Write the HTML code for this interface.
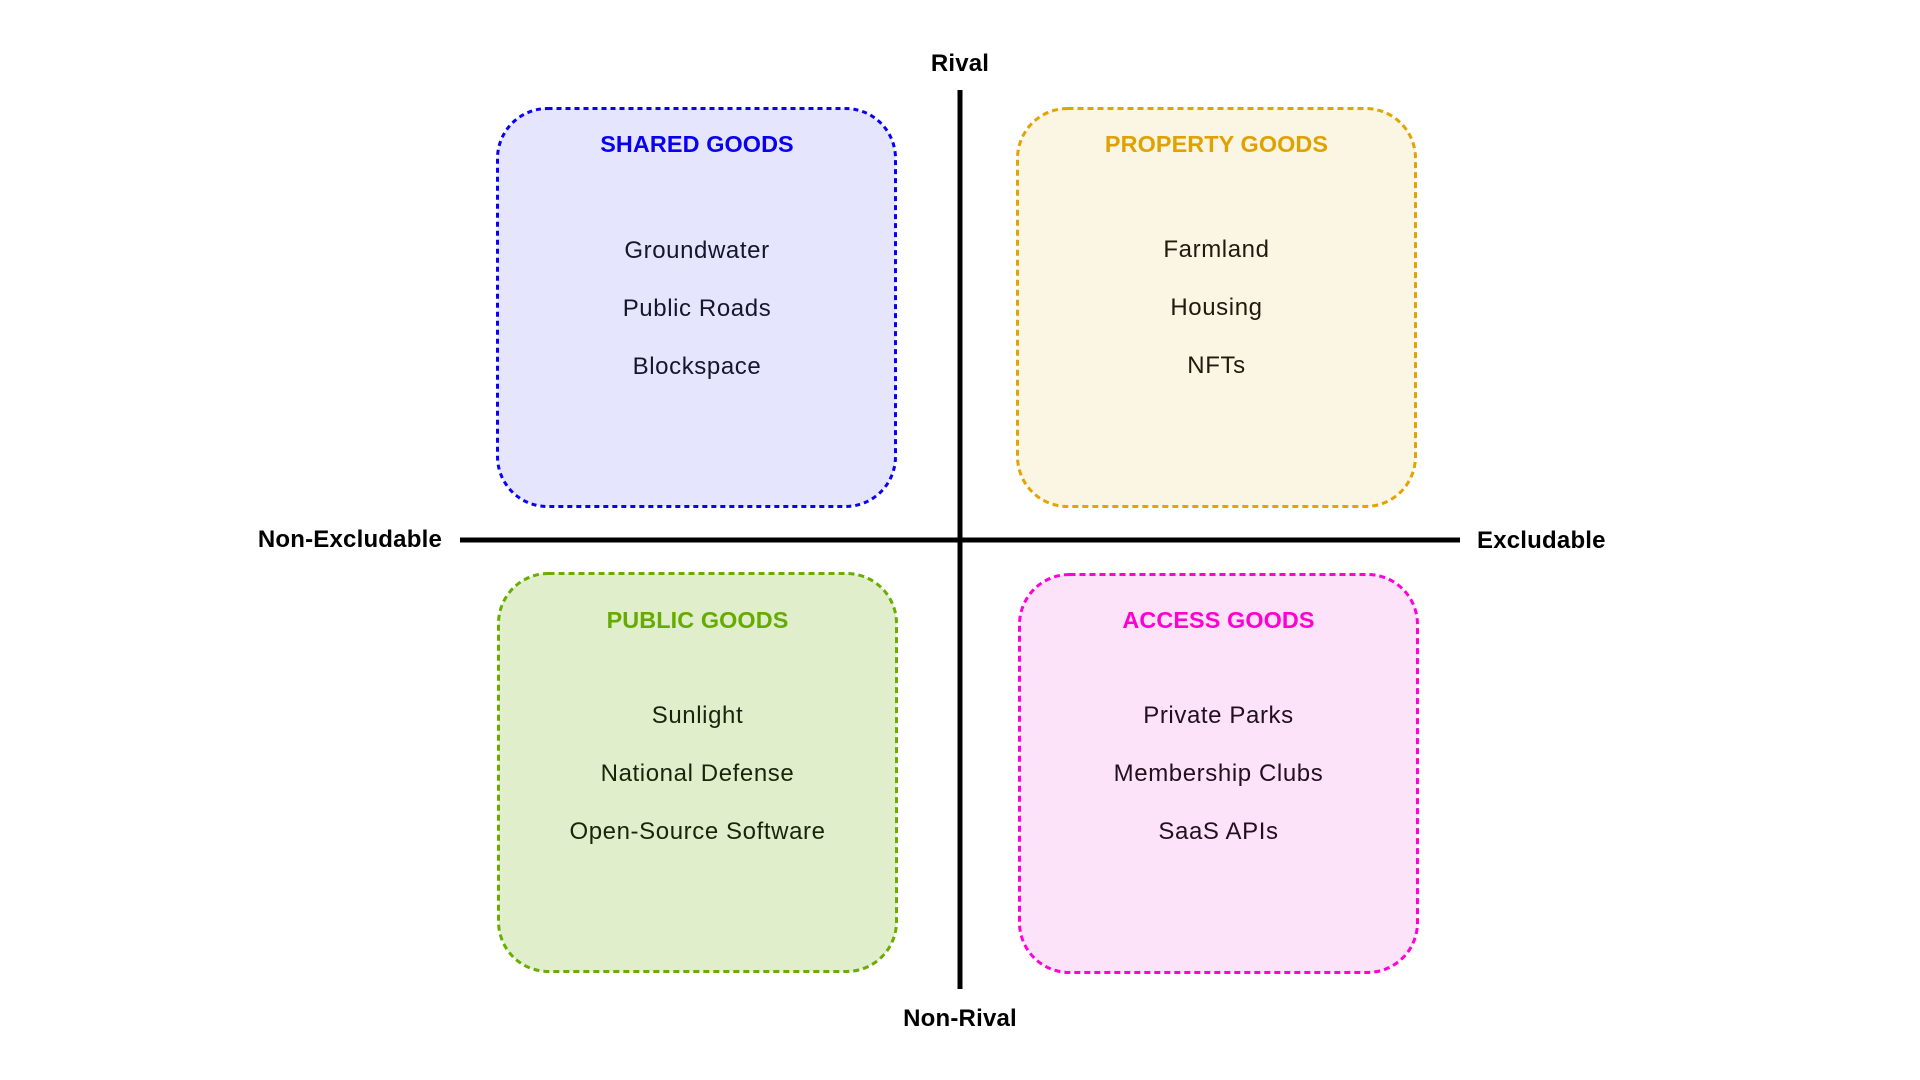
<!DOCTYPE html>
<html>
<head>
<meta charset="utf-8">
<style>
  html, body { margin: 0; padding: 0; background: #ffffff; }
  body { width: 1920px; height: 1080px; overflow: hidden; }
  svg { display: block; }
  .ax { font-family: "Liberation Sans", Arial, sans-serif; font-weight: bold; font-size: 24px; fill: #000; letter-spacing: 0.2px; }
  .ttl { font-family: "Liberation Sans", Arial, sans-serif; font-weight: bold; font-size: 23.4px; letter-spacing: 0.1px; }
  .it { font-family: "Liberation Sans", Arial, sans-serif; font-size: 24px; letter-spacing: 0.6px; }
</style>
</head>
<body>
<svg width="1920" height="1080" viewBox="0 0 1920 1080" xmlns="http://www.w3.org/2000/svg">
  <rect x="0" y="0" width="1920" height="1080" fill="#ffffff"/>

  <!-- Quadrant boxes -->
  <rect x="497.5" y="108.5" width="398" height="398" rx="50" ry="50" fill="#e5e5fd" stroke="#0a00f5" stroke-width="3" stroke-dasharray="5 4"/>
  <rect x="1017.5" y="108.5" width="398" height="398" rx="50" ry="50" fill="#fbf5e3" stroke="#e3a300" stroke-width="3" stroke-dasharray="6 4"/>
  <rect x="498.5" y="573.5" width="398" height="398" rx="50" ry="50" fill="#e1eecc" stroke="#6aad00" stroke-width="3" stroke-dasharray="6 4"/>
  <rect x="1019.5" y="574.5" width="398" height="398" rx="50" ry="50" fill="#fde3f9" stroke="#ff00d8" stroke-width="3" stroke-dasharray="6 4"/>

  <!-- Axes -->
  <line x1="960" y1="90" x2="960" y2="989" stroke="#000" stroke-width="5"/>
  <line x1="460" y1="540" x2="1460" y2="540" stroke="#000" stroke-width="5"/>

  <!-- Axis labels -->
  <text class="ax" x="960" y="71" text-anchor="middle">Rival</text>
  <text class="ax" x="960" y="1026" text-anchor="middle">Non-Rival</text>
  <text class="ax" x="442" y="547" text-anchor="end">Non-Excludable</text>
  <text class="ax" x="1477" y="548" text-anchor="start">Excludable</text>

  <!-- Shared Goods -->
  <text class="ttl" x="697" y="152" text-anchor="middle" fill="#0a00f0">SHARED GOODS</text>
  <text class="it" x="697" y="258" text-anchor="middle" fill="#15152e">Groundwater</text>
  <text class="it" x="697" y="316" text-anchor="middle" fill="#15152e">Public Roads</text>
  <text class="it" x="697" y="374" text-anchor="middle" fill="#15152e">Blockspace</text>

  <!-- Property Goods -->
  <text class="ttl" x="1216.5" y="152" text-anchor="middle" fill="#e0a200">PROPERTY GOODS</text>
  <text class="it" x="1216.5" y="257" text-anchor="middle" fill="#1f1a0d">Farmland</text>
  <text class="it" x="1216.5" y="315" text-anchor="middle" fill="#1f1a0d">Housing</text>
  <text class="it" x="1216.5" y="373" text-anchor="middle" fill="#1f1a0d">NFTs</text>

  <!-- Public Goods -->
  <text class="ttl" x="697.5" y="628" text-anchor="middle" fill="#66ab00">PUBLIC GOODS</text>
  <text class="it" x="697.5" y="723" text-anchor="middle" fill="#17260a">Sunlight</text>
  <text class="it" x="697.5" y="781" text-anchor="middle" fill="#17260a">National Defense</text>
  <text class="it" x="697.5" y="839" text-anchor="middle" fill="#17260a">Open-Source Software</text>

  <!-- Access Goods -->
  <text class="ttl" x="1218.5" y="628" text-anchor="middle" fill="#ff00d2">ACCESS GOODS</text>
  <text class="it" x="1218.5" y="723" text-anchor="middle" fill="#22101e">Private Parks</text>
  <text class="it" x="1218.5" y="781" text-anchor="middle" fill="#22101e">Membership Clubs</text>
  <text class="it" x="1218.5" y="839" text-anchor="middle" fill="#22101e">SaaS APIs</text>
</svg>
</body>
</html>
